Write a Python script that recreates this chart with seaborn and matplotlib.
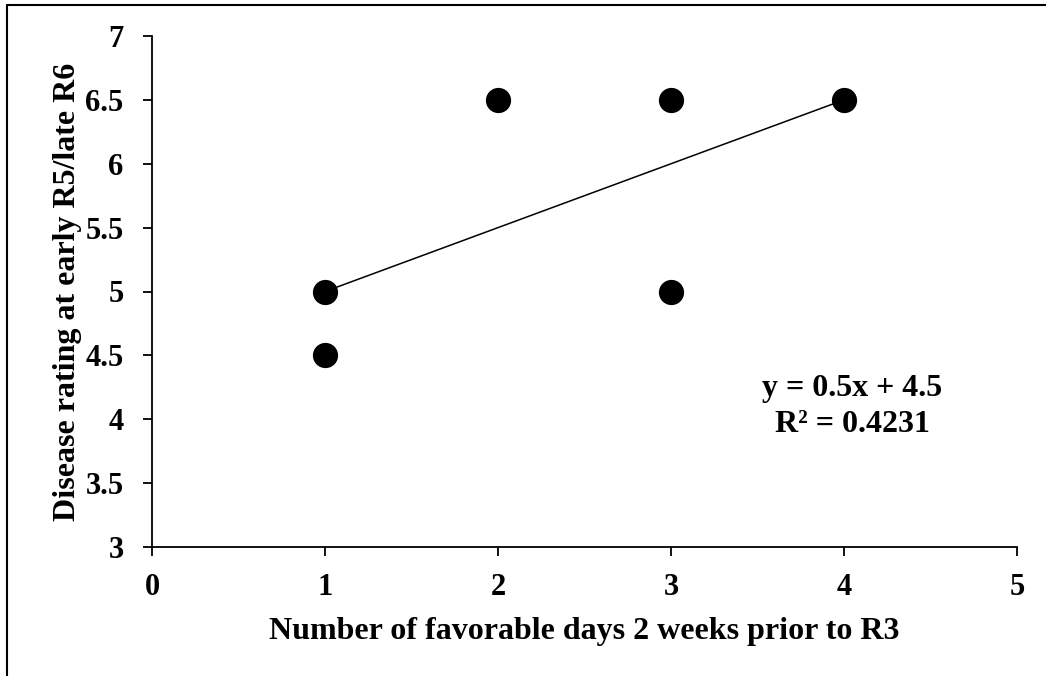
import matplotlib
matplotlib.use("Agg")
import matplotlib.pyplot as plt
import seaborn as sns
import pandas as pd
import numpy as np
from matplotlib.lines import Line2D

favorable_days = [1, 1, 2, 3, 3, 4]
disease_rating = [5.0, 4.5, 6.5, 6.5, 5.0, 6.5]
trend_x = [1, 4]
trend_slope = 0.5
trend_intercept = 4.5
x_ticks = [0, 1, 2, 3, 4, 5]
y_ticks = [3, 3.5, 4, 4.5, 5, 5.5, 6, 6.5, 7]
y_tick_labels = ["3", "3.5", "4", "4.5", "5", "5.5", "6", "6.5", "7"]

sns.set_style("ticks")
plt.rcParams['font.family'] = ['Liberation Serif', 'DejaVu Serif']
plt.rcParams['font.weight'] = 'bold'
plt.rcParams['text.color'] = 'black'
plt.rcParams['axes.labelcolor'] = 'black'
plt.rcParams['xtick.color'] = 'black'
plt.rcParams['ytick.color'] = 'black'

TICK_FS = 22
LABEL_FS = 23

df = pd.DataFrame({"x": favorable_days, "y": disease_rating})

fig = plt.figure(figsize=(10.46, 6.76), dpi=100)
ax = fig.add_axes([152/1046, 1 - 547/676, (1017-152)/1046, (547-36)/676])

tx = np.array(trend_x, dtype=float)
sns.lineplot(x=tx, y=trend_slope * tx + trend_intercept, ax=ax, color="black", linewidth=1.1)
sns.scatterplot(data=df, x="x", y="y", ax=ax, color="black", s=330, edgecolor="black", linewidth=0, zorder=3)

ax.set_xlim(0, 5)
ax.set_ylim(3, 7)
ax.set_xticks(x_ticks)
ax.set_xticklabels([str(t) for t in x_ticks], fontsize=TICK_FS, fontweight="bold")
ax.set_yticks(y_ticks)
ax.set_yticklabels(y_tick_labels, fontsize=TICK_FS, fontweight="bold")
ax.tick_params(axis="both", direction="out", length=6.5, width=1.3, colors="black")
ax.tick_params(axis="y", pad=14)
ax.tick_params(axis="x", pad=12)
for s in ["top", "right"]:
    ax.spines[s].set_visible(False)
for s in ["left", "bottom"]:
    ax.spines[s].set_color("black")
    ax.spines[s].set_linewidth(1.3)

ax.set_xlabel("Number of favorable days 2 weeks prior to R3", fontsize=LABEL_FS, fontweight="bold")
ax.set_ylabel("Disease rating at early R5/late R6", fontsize=LABEL_FS, fontweight="bold")
ax.xaxis.set_label_coords(0.5, -0.137)
ax.yaxis.set_label_coords(-0.081, 0.5)

ax.text(4.046, 4.1, "y = 0.5x + 4.5\nR² = 0.4231", fontsize=23, fontweight="bold",
        ha="center", va="center", linespacing=1.29, transform=ax.transData)

fig.add_artist(Line2D([7/1046, 7/1046], [0, 1 - 5/676], transform=fig.transFigure, color="black", linewidth=1.5))
fig.add_artist(Line2D([7/1046, 1], [1 - 5/676, 1 - 5/676], transform=fig.transFigure, color="black", linewidth=1.5))

fig.savefig("out.png", dpi=100)
